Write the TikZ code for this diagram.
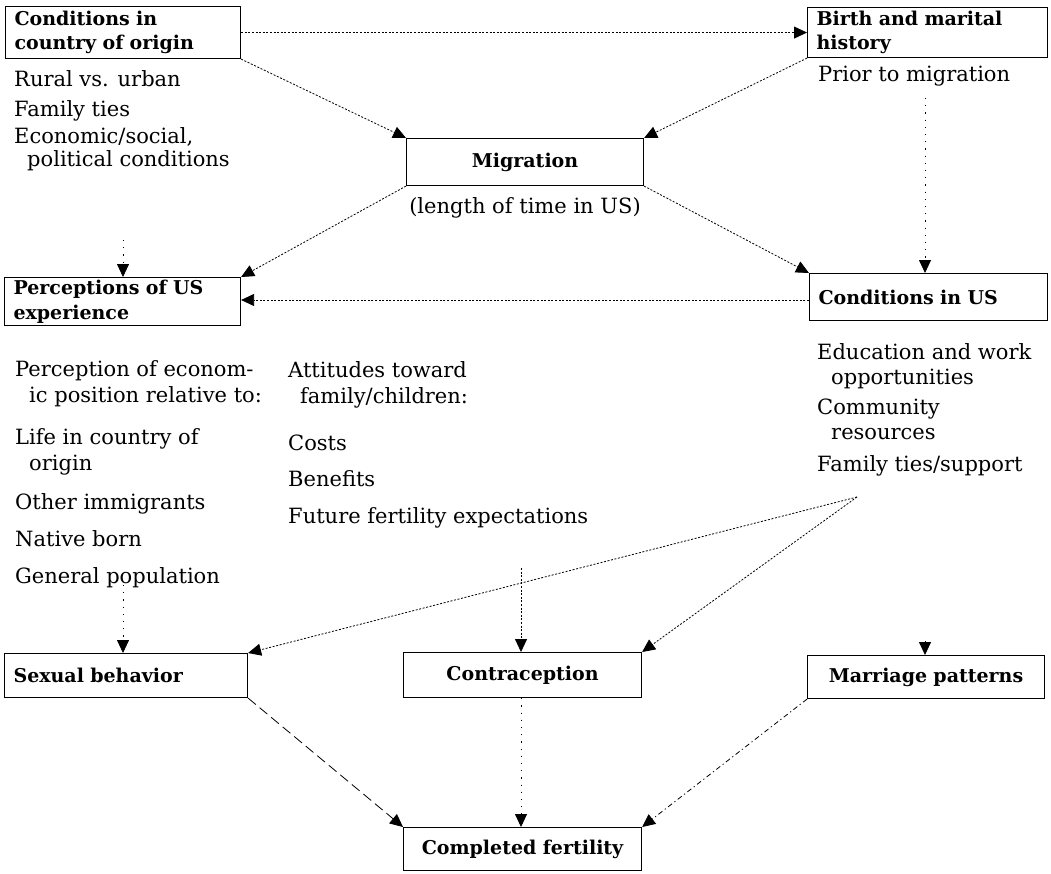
\documentclass[tikz,border=0pt]{standalone}
\usepackage{fontspec}
\setmainfont{DejaVu Serif}
\usetikzlibrary{arrows.meta}
\begin{document}
\begin{tikzpicture}[x=1pt,y=-1pt,
  box/.style={draw, line width=1.1pt, inner xsep=9pt, inner ysep=0pt, anchor=north west,
    font=\bfseries\fontsize{19}{24.5}\selectfont},
  lbl/.style={inner sep=0pt, anchor=mid west, yshift=-4pt, font=\fontsize{21}{26}\selectfont},
  arr/.style={-{Triangle[length=13pt,width=12pt]}, line width=0.8pt},
  dotline/.style={arr, dash pattern=on 2pt off 1.6pt},
  sparse/.style={arr, dash pattern=on 1.2pt off 6pt},
  longdash/.style={arr, dash pattern=on 10pt off 5pt},
  dashdot/.style={arr, dash pattern=on 5pt off 3pt on 1.2pt off 3pt}]
\useasboundingbox (0,0) rectangle (1051,873);
% boxes
\node[box, minimum width=235pt, minimum height=52pt, text width=217pt, align=left] (orig) at (5,6) {Conditions in\\country of origin};
\node[box, minimum width=240pt, minimum height=50pt, text width=222pt, align=left] (birth) at (807,7) {Birth and marital\\history};
\node[box, minimum width=237pt, minimum height=47pt, text width=219pt, align=center] (mig) at (406,138) {Migration};
\node[box, minimum width=236pt, minimum height=48pt, text width=218pt, align=left] (perc) at (4,277) {Perceptions of US\\experience};
\node[box, minimum width=238pt, minimum height=47pt, text width=220pt, align=left] (cus) at (809,273) {Conditions in US};
\node[box, minimum width=243pt, minimum height=44pt, text width=225pt, align=left] (sex) at (4,653) {Sexual behavior};
\node[box, minimum width=238pt, minimum height=45pt, text width=220pt, align=center] (contra) at (403,652) {Contraception};
\node[box, minimum width=237pt, minimum height=43pt, text width=219pt, align=center] (marr) at (807,655) {Marriage patterns};
\node[box, minimum width=238pt, minimum height=43pt, text width=220pt, align=center] (compl) at (403,827) {Completed fertility};
% texts
\node[lbl] (o1) at (14,80) {Rural vs. urban};
\node[lbl] (o2) at (14,110) {Family ties};
\node[lbl] (o3) at (14,137) {Economic/social,};
\node[lbl] (o4) at (27,160) {political conditions};
\node[lbl] (b1) at (818,75) {Prior to migration};
\node[lbl, anchor=mid] (m1) at (525,207) {(length of time in US)};
\node[lbl] (p1) at (15,370) {Perception of econom-};
\node[lbl] (p2) at (29,396) {ic position relative to:};
\node[lbl] (p3) at (15,438) {Life in country of};
\node[lbl] (p4) at (29,464) {origin};
\node[lbl] (p5) at (15,503) {Other immigrants};
\node[lbl] (p6) at (15,540) {Native born};
\node[lbl] (p7) at (15,577) {General population};
\node[lbl] (a1) at (288,371) {Attitudes toward};
\node[lbl] (a2) at (300,397) {family/children:};
\node[lbl] (a3) at (288,444) {Costs};
\node[lbl] (a4) at (288,480) {Benefits};
\node[lbl] (a5) at (288,517) {Future fertility expectations};
\node[lbl] (u1) at (817,353) {Education and work};
\node[lbl] (u2) at (831,378) {opportunities};
\node[lbl] (u3) at (817,408) {Community};
\node[lbl] (u4) at (831,433) {resources};
\node[lbl] (u5) at (817,465) {Family ties/support};
% helper coordinates
\coordinate (hub) at (857,497);
\coordinate (c1) at (123,240);
\coordinate (c2) at (925,98);
\coordinate (c3) at (123,585);
\coordinate (c4) at (521,568);
\coordinate (c5) at (925,641);
% connectors
\draw[dotline] (orig.east) -- (birth.west);
\draw[dotline] (orig.south east) -- (mig.north west);
\draw[dotline] (birth.south west) -- (mig.north east);
\draw[dotline] (mig.south west) -- (perc.north east);
\draw[dotline] (mig.south east) -- (cus.north west);
\draw[dotline] (cus.west |- 0,300) -- (perc.east |- 0,300);
\draw[sparse] (c1) -- (c1 |- perc.north);
\draw[sparse] (c2) -- (c2 |- cus.north);
\draw[sparse] (c3) -- (c3 |- sex.north);
\draw[dotline] (c4) -- (c4 |- contra.north);
\draw[dotline] (hub) -- (sex.north east);
\draw[dotline] (hub) -- (contra.north east);
\draw[arr] (c5) -- (c5 |- marr.north);
\draw[longdash] (sex.south east) -- (compl.north west);
\draw[sparse] (contra.south -| c4) -- (compl.north -| c4);
\draw[dashdot] (marr.south west) -- (compl.north east);
\end{tikzpicture}
\end{document}
